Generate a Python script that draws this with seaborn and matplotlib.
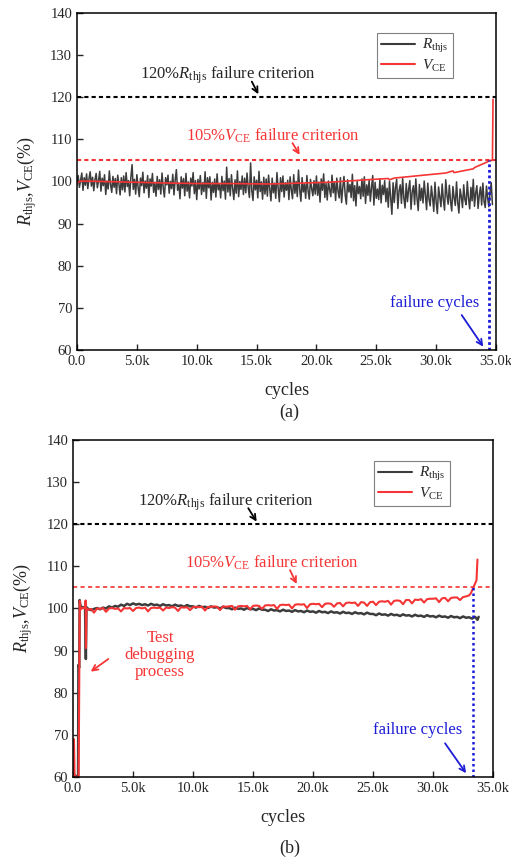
import matplotlib
matplotlib.use("Agg")
import matplotlib.pyplot as plt
import seaborn as sns
from matplotlib.ticker import FuncFormatter, MultipleLocator

# ---------------- panel (a) data ----------------
# Rthjs sampled every 100 cycles from 0 to 34.6k
ra_step = 100
ra_values = [
    99.2, 101.4, 98.6, 100.3, 102.0, 97.9, 100.9, 99.1, 101.8, 98.3, 100.6, 102.3, 98.9, 101.0, 97.8, 100.4, 101.9, 98.5, 100.2, 102.4,
    97.7, 100.8, 99.0, 101.6, 96.9, 100.1, 98.2, 102.5, 99.3, 97.4, 101.2, 98.6, 100.7, 97.1, 101.5, 99.4, 96.8, 100.9, 98.0, 101.3,
    97.5, 102.1, 98.8, 100.2, 96.6, 101.0, 104.0, 98.1, 100.5, 97.0, 101.6, 98.7, 96.4, 100.8, 99.0, 102.2, 97.3, 100.1, 98.4, 101.4,
    96.2, 100.6, 98.9, 101.9, 97.4, 99.8, 96.5, 101.2, 98.1, 100.4, 97.0, 102.0, 98.6, 96.3, 100.9, 99.2, 101.5, 97.2, 100.0, 98.3,
    101.7, 96.8, 100.3, 102.8, 97.9, 99.6, 95.9, 101.1, 98.4, 100.7, 96.6, 101.9, 97.7, 99.9, 96.1, 100.8, 98.9, 102.1, 97.1, 100.2,
    95.7, 100.5, 98.2, 101.4, 96.9, 99.7, 97.6, 102.3, 96.0, 100.9, 98.5, 101.1, 95.6, 99.8, 97.4, 100.6, 96.3, 101.8, 98.0, 99.5,
    96.1, 101.2, 97.8, 100.1, 95.8, 103.4, 97.5, 100.7, 96.6, 101.6, 98.3, 95.7, 100.4, 97.2, 102.5, 96.4, 100.0, 98.1, 101.3, 96.9,
    100.8, 97.3, 102.0, 98.5, 96.2, 104.4, 97.8, 95.5, 101.1, 98.0, 100.3, 96.1, 102.4, 97.6, 99.9, 95.8, 101.0, 97.0, 100.6, 96.5,
    101.5, 98.2, 95.4, 100.8, 97.3, 99.6, 96.0, 102.1, 98.4, 95.2, 100.9, 97.6, 101.3, 96.3, 99.7, 97.9, 100.3, 95.7, 101.1, 98.0,
    95.9, 101.6, 97.2, 100.0, 96.4, 102.7, 98.1, 95.3, 100.9, 97.5, 99.4, 96.0, 101.4, 97.8, 95.8, 100.5, 98.3, 96.6, 100.2, 97.0,
    101.3, 96.7, 99.8, 95.1, 100.6, 97.9, 101.8, 96.2, 99.5, 95.6, 100.1, 98.0, 96.4, 101.5, 97.3, 99.9, 95.5, 100.8, 97.7, 96.1,
    100.9, 95.0, 98.6, 101.2, 96.8, 94.6, 100.4, 97.5, 99.3, 96.2, 101.7, 95.4, 99.0, 94.2, 100.0, 97.1, 98.8, 95.9, 100.6, 96.5,
    101.1, 94.8, 99.2, 96.7, 100.3, 95.3, 98.5, 101.4, 94.4, 99.8, 96.0, 98.2, 95.7, 100.6, 94.9, 99.1, 96.9, 100.2, 95.2, 98.4,
    93.9, 100.1, 96.3, 92.2, 99.7, 95.0, 98.6, 100.5, 93.6, 97.8, 99.2, 94.8, 100.7, 96.1, 93.7, 99.5, 95.2, 98.1, 100.2, 93.4,
    97.6, 99.0, 94.5, 100.6, 96.0, 93.1, 99.3, 95.5, 98.4, 94.9, 100.1, 96.6, 93.3, 99.6, 95.8, 94.2, 98.9, 96.2, 92.9, 99.8,
    95.1, 92.4, 98.7, 96.3, 94.0, 99.4, 95.6, 93.2, 100.4, 96.8, 94.6, 99.1, 95.3, 93.0, 98.8, 96.1, 94.3, 99.9, 95.0, 92.5,
    98.2, 96.4, 93.8, 99.2, 95.7, 94.5, 100.0, 96.0, 93.5, 98.6, 95.4, 100.5, 94.1, 97.3, 99.0, 93.6, 96.8, 98.7, 94.4, 99.6,
    95.2, 93.8, 98.9, 96.1, 94.0, 97.5, 99.7,
]
ra_tail_cycles = [34700]
ra_tail_values = [94.5]

va_cycles = [0, 300, 2000, 5000, 8000, 10300, 13000, 16000, 18600, 21000,
             24200, 26000, 26100, 26500, 27200, 29700, 30800, 31400, 31500,
             33100, 33200, 34250, 34500, 34700, 34750]
va_values = [99.6, 100.1, 100.0, 99.8, 99.6, 99.5, 99.5, 99.4, 99.6, 99.8,
             100.4, 100.7, 100.4, 100.8, 101.0, 101.7, 102.0, 102.5, 102.1,
             103.0, 103.3, 104.6, 105.0, 105.0, 119.5]

fail_a = 34400

# ---------------- panel (b) data ----------------
rb_head_cycles = [0, 200, 420, 450, 520, 550, 620, 800, 1000, 1070, 1120, 1300]
rb_head_values = [61.0, 60.2, 60.2, 86.6, 86.0, 102.0, 100.6, 100.2, 100.4, 88.0, 100.3, 99.8]
b_step = 250
b_start = 1500
# Rthjs every 250 cycles from 1.5k to 33.5k
rb_values = [
    99.6, 99.9,
    100.1, 99.8, 100.2, 100.0,
    100.5, 100.2, 100.6, 100.4,
    100.9, 100.6, 101.1, 100.8,
    101.2, 100.9, 101.1, 100.8,
    101.0, 100.7, 101.1, 100.8,
    100.9, 100.6, 101.0, 100.7,
    100.8, 100.5, 100.9, 100.6,
    100.7, 100.4, 100.8, 100.5,
    100.5, 100.2, 100.6, 100.3,
    100.4, 100.1, 100.5, 100.2,
    100.3, 100.0, 100.4, 100.1,
    100.1, 99.8, 100.2, 99.9,
    100.0, 99.7, 100.1, 99.8,
    99.9, 99.6, 100.0, 99.7,
    99.7, 99.4, 99.8, 99.5,
    99.6, 99.3, 99.7, 99.4,
    99.5, 99.2, 99.6, 99.3,
    99.4, 99.1, 99.5, 99.2,
    99.3, 99.0, 99.4, 99.1,
    99.2, 98.9, 99.3, 99.0,
    99.1, 98.8, 99.2, 98.9,
    99.0, 98.7, 99.1, 98.8,
    98.9, 98.6, 99.0, 98.7,
    98.7, 98.4, 98.8, 98.5,
    98.6, 98.3, 98.7, 98.4,
    98.5, 98.2, 98.6, 98.3,
    98.4, 98.1, 98.5, 98.2,
    98.3, 98.0, 98.4, 98.1,
    98.2, 97.9, 98.3, 98.0,
    98.1, 97.8, 98.2, 97.9,
    98.0, 97.7, 98.1, 97.8,
    97.9, 97.6, 98.0,
]
rb_tail_cycles = [33700, 33800]
rb_tail_values = [97.3, 98.0]

vb_head_cycles = [0, 80, 130, 300, 470, 560, 640, 800, 1000, 1050, 1080, 1120, 1300]
vb_head_values = [60.0, 69.0, 60.3, 60.0, 60.1, 101.8, 99.8, 100.1, 100.2, 101.9, 90.6, 100.0, 99.7]
# VCE every 250 cycles from 1.5k to 32.5k
vb_values = [
    99.9, 99.0,
    100.0, 99.9, 100.1, 99.2,
    100.0, 100.1, 99.9, 100.0,
    99.3, 100.1, 100.0, 100.1,
    99.4, 100.1, 100.2, 100.0,
    100.2, 99.3, 100.1, 100.2,
    100.1, 100.2, 99.5, 100.2,
    100.1, 100.3, 100.2, 99.4,
    100.3, 100.2, 100.3, 99.6,
    100.3, 100.4, 100.3, 100.4,
    99.5, 100.4, 100.3, 100.5,
    100.4, 99.6, 100.5, 100.4,
    100.5, 100.6, 99.7, 100.5,
    100.6, 100.5, 100.6, 99.8,
    100.6, 100.7, 100.6, 99.9,
    100.7, 100.8, 100.7, 100.8,
    99.9, 100.8, 100.9, 100.8,
    100.9, 100.0, 100.9, 101.0,
    100.9, 101.0, 100.1, 101.0,
    101.1, 101.0, 101.1, 100.3,
    101.1, 101.2, 101.1, 100.4,
    101.2, 101.3, 100.5, 101.3,
    101.4, 101.3, 101.4, 100.6,
    101.5, 101.4, 100.6, 101.5,
    101.6, 100.8, 101.6, 101.7,
    101.6, 101.8, 100.9, 101.8,
    101.9, 101.8, 101.0, 102.0,
    102.0, 101.2, 102.1, 102.0,
    102.2, 101.4, 102.2, 102.3,
    102.3, 102.4, 101.5, 102.4,
    102.5, 101.7, 102.5, 102.6,
    102.6, 102.0, 102.7,
]
vb_tail_cycles = [32800, 33000, 33150, 33360, 33500, 33620, 33700]
vb_tail_values = [102.9, 103.1, 103.6, 105.0, 106.0, 106.7, 111.6]

fail_b = 33360

crit_r = 120
crit_v = 105

# assemble x grids
ra_cycles = list(range(0, ra_step * len(ra_values), ra_step)) + ra_tail_cycles
ra_all = ra_values + ra_tail_values
rb_cycles = rb_head_cycles + list(range(b_start, b_start + b_step * len(rb_values), b_step)) + rb_tail_cycles
rb_all = rb_head_values + rb_values + rb_tail_values
vb_cycles = vb_head_cycles + list(range(b_start, b_start + b_step * len(vb_values), b_step)) + vb_tail_cycles
vb_all = vb_head_values + vb_values + vb_tail_values

# ---------------- style ----------------
sns.set_style("ticks")
plt.rcParams["font.family"] = ["Liberation Serif", "DejaVu Serif"]
plt.rcParams["mathtext.fontset"] = "custom"
plt.rcParams["mathtext.rm"] = "Liberation Serif"
plt.rcParams["mathtext.it"] = "Liberation Serif:italic"
plt.rcParams["xtick.direction"] = "in"
plt.rcParams["ytick.direction"] = "in"

BLACK = "#3c3c3c"
RED = "#f53535"
BLUE = "#1c1cd6"

fig = plt.figure(figsize=(5.11, 8.60), dpi=100)
ax_a = fig.add_axes([0.1507, 0.593, 0.820, 0.392])
ax_b = fig.add_axes([0.1429, 0.0965, 0.822, 0.392])

R_LABEL = r"$R_{\mathrm{thjs}}$"
V_LABEL = r"$V_{\mathrm{CE}}$"


def style_axes(ax):
    ax.set_xlim(0, 35000)
    ax.set_ylim(60, 140)
    ax.xaxis.set_major_locator(MultipleLocator(5000))
    ax.yaxis.set_major_locator(MultipleLocator(10))
    ax.xaxis.set_major_formatter(FuncFormatter(lambda v, _: "0.0" if v == 0 else f"{v / 1000:.1f}k"))
    ax.tick_params(axis="both", labelsize=10.5, length=4, width=1.0, top=False, right=False)
    for s in ax.spines.values():
        s.set_linewidth(1.1)
        s.set_color("black")
    ax.set_xlabel("cycles", fontsize=13, labelpad=10)
    ax.set_ylabel(r"$R_{\mathrm{thjs}}$,$V_{\mathrm{CE}}$(%)", fontsize=13, labelpad=8)


def arrow(ax, start, end, color):
    ax.annotate("", xy=end, xytext=start,
                arrowprops=dict(arrowstyle="->", color=color, lw=1.3, shrinkA=0, shrinkB=0))


def add_legend(ax, anchor):
    leg = ax.legend(loc="upper right", bbox_to_anchor=anchor, borderaxespad=0, fontsize=11,
                    frameon=True, fancybox=False, edgecolor="#808080", framealpha=1,
                    handlelength=2.2, handletextpad=0.5, borderpad=0.3, labelspacing=0.15)
    leg.get_frame().set_linewidth(0.8)
    for line in leg.get_lines():
        line.set_linewidth(1.5)


# ---------------- panel (a) ----------------
sns.lineplot(x=ra_cycles, y=ra_all, ax=ax_a, color=BLACK, lw=1.1, label=R_LABEL, estimator=None)
sns.lineplot(x=va_cycles, y=va_values, ax=ax_a, color=RED, lw=1.2, label=V_LABEL, estimator=None)
ax_a.axhline(crit_r, color="black", lw=1.5, ls=(0, (2, 1.5)))
ax_a.axhline(crit_v, color=RED, lw=1.5, ls=(0, (2, 1.5)))
ax_a.vlines(fail_a, 60, crit_v, color=BLUE, lw=2.0, ls=(0, (1, 1)))
style_axes(ax_a)

ax_a.text(12600, 125.3, "120%" + R_LABEL + " failure criterion", ha="center", va="center", fontsize=12)
arrow(ax_a, (14600, 123.7), (15150, 120.7), "black")
ax_a.text(16400, 110.8, "105%" + V_LABEL + " failure criterion", ha="center", va="center", fontsize=12, color=RED)
arrow(ax_a, (18000, 109.1), (18600, 106.3), RED)
ax_a.text(29900, 71.2, "failure cycles", ha="center", va="center", fontsize=12, color=BLUE)
arrow(ax_a, (32130, 68.3), (33930, 60.8), BLUE)
add_legend(ax_a, (0.898, 0.941))
fig.text(0.567, 0.521, "(a)", ha="center", va="center", fontsize=13)

# ---------------- panel (b) ----------------
sns.lineplot(x=rb_cycles, y=rb_all, ax=ax_b, color=BLACK, lw=1.8, label=R_LABEL, estimator=None)
sns.lineplot(x=vb_cycles, y=vb_all, ax=ax_b, color=RED, lw=1.5, label=V_LABEL, estimator=None)
ax_b.axhline(crit_r, color="black", lw=1.5, ls=(0, (2, 1.5)))
ax_b.axhline(crit_v, color=RED, lw=1.2, ls=(0, (2.5, 2)))
ax_b.vlines(fail_b, 60, crit_v, color=BLUE, lw=1.8, ls=(0, (1, 1.2)))
style_axes(ax_b)

ax_b.text(12750, 125.1, "120%" + R_LABEL + " failure criterion", ha="center", va="center", fontsize=12)
arrow(ax_b, (14600, 123.8), (15300, 120.6), "black")
ax_b.text(16600, 110.9, "105%" + V_LABEL + " failure criterion", ha="center", va="center", fontsize=12, color=RED)
arrow(ax_b, (18080, 109.1), (18640, 105.8), RED)
ax_b.text(7250, 89.0, "Test\ndebugging\nprocess", ha="center", va="center", fontsize=12,
          color=RED, linespacing=1.1)
arrow(ax_b, (2940, 88.0), (1470, 85.0), RED)
ax_b.text(28700, 71.2, "failure cycles", ha="center", va="center", fontsize=12, color=BLUE)
arrow(ax_b, (31000, 68.0), (32750, 60.9), BLUE)
add_legend(ax_b, (0.898, 0.938))
fig.text(0.567, 0.014, "(b)", ha="center", va="center", fontsize=13)

fig.savefig("out.png", dpi=100)
